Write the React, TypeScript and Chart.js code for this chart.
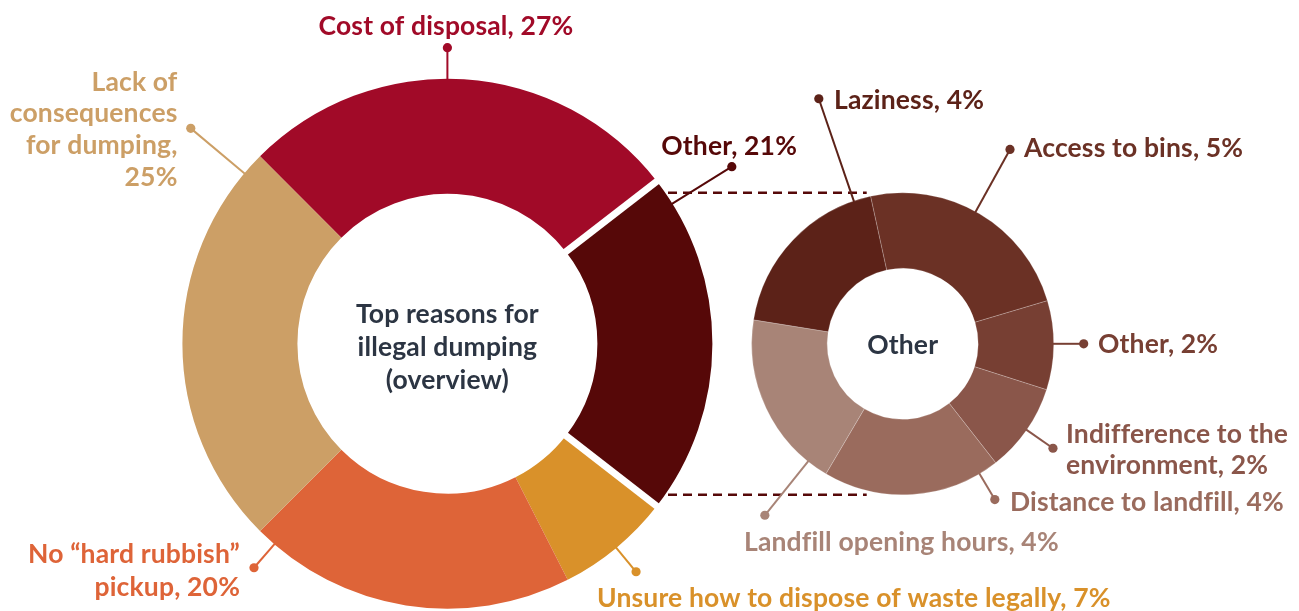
import React, { useEffect, useRef } from "react";
import { Chart, registerables } from "chart.js";

Chart.register(...registerables);

// ---------- data ----------
const mainCategories = [
  "Cost of disposal",
  "Other",
  "Unsure how to dispose of waste legally",
  "No “hard rubbish” pickup",
  "Lack of consequences for dumping",
];
const mainValues = [27, 21, 7, 20, 25];
const mainColors = ["#A10A28", "#560808", "#D9912A", "#DE6438", "#CC9F66"];

const otherCategories = [
  "Access to bins",
  "Other",
  "Indifference to the environment",
  "Distance to landfill",
  "Landfill opening hours",
  "Laziness",
];
const otherValues = [5, 2, 2, 4, 4, 4];
const otherColors = ["#6B3125", "#773F33", "#8A564A", "#9A6B5D", "#A88477", "#5C2218"];

const mainTitleLines = ["Top reasons for", "illegal dumping", "(overview)"];
const otherTitle = "Other";

// ---------- layout (positions / styles only) ----------
const W = 1299;
const H = 611;
const FONT = "Lato, 'Noto Sans', sans-serif";
const FONT_SPEC = `bold 26.5px ${FONT}`;
const LETTER_SPACING = "0.15px";
const TITLE_COLOR = "#2C3543";

type LabelSpec = {
  lines: string[];
  x: number;
  baselines: number[];
  align: CanvasTextAlign;
  angle: number; // degrees clockwise from top, where the leader line leaves the ring
  dot: number; // distance of the dot from the centre
};

const lbl = (cats: string[], vals: number[], i: number) => `${cats[i]}, ${vals[i]}%`;

const mainLabels: LabelSpec[] = [
  { lines: [lbl(mainCategories, mainValues, 0)], x: 446, baselines: [35], align: "center", angle: 0, dot: 296 },
  { lines: [lbl(mainCategories, mainValues, 1)], x: 797, baselines: [155], align: "right", angle: 58.1, dot: 335 },
  { lines: [lbl(mainCategories, mainValues, 2)], x: 597, baselines: [607], align: "left", angle: 140.4, dot: 296 },
  { lines: ["No “hard rubbish”", `pickup, ${mainValues[3]}%`], x: 240, baselines: [563, 596], align: "right", angle: 220.8, dot: 296 },
  { lines: ["Lack of", "consequences", "for dumping,", `${mainValues[4]}%`], x: 177.5, baselines: [90.5, 122, 154, 186], align: "right", angle: -50, dot: 335 },
];

const otherLabels: LabelSpec[] = [
  { lines: [lbl(otherCategories, otherValues, 0)], x: 1024, baselines: [157], align: "left", angle: 28.9, dot: 222 },
  { lines: [lbl(otherCategories, otherValues, 1)], x: 1098, baselines: [353], align: "left", angle: 90, dot: 181 },
  { lines: ["Indifference to the", `environment, ${otherValues[2]}%`], x: 1066, baselines: [443, 473.5], align: "left", angle: 124.8, dot: 183 },
  { lines: [lbl(otherCategories, otherValues, 3)], x: 1010, baselines: [510.5], align: "left", angle: 149.4, dot: 181 },
  { lines: [lbl(otherCategories, otherValues, 4)], x: 744, baselines: [551], align: "left", angle: 218.8, dot: 220 },
  { lines: [lbl(otherCategories, otherValues, 5)], x: 834, baselines: [108.5], align: "left", angle: -18.9, dot: 259 },
];

function setFont(ctx: CanvasRenderingContext2D) {
  ctx.font = FONT_SPEC;
  try {
    (ctx as any).letterSpacing = LETTER_SPACING;
  } catch (e) {
    /* ignore */
  }
}

function drawLeadersAndLabels(chart: any, labels: LabelSpec[], colors: string[]) {
  const meta = chart.getDatasetMeta(0);
  const arc0: any = meta.data[0];
  if (!arc0) return;
  const cx = arc0.x;
  const cy = arc0.y;
  const R = arc0.outerRadius;
  const ctx: CanvasRenderingContext2D = chart.ctx;
  ctx.save();
  labels.forEach((l, i) => {
    const a = ((l.angle - 90) * Math.PI) / 180;
    const x1 = cx + Math.cos(a) * (R - 1);
    const y1 = cy + Math.sin(a) * (R - 1);
    const x2 = cx + Math.cos(a) * l.dot;
    const y2 = cy + Math.sin(a) * l.dot;
    ctx.strokeStyle = colors[i];
    ctx.fillStyle = colors[i];
    ctx.lineWidth = 2;
    ctx.beginPath();
    ctx.moveTo(x1, y1);
    ctx.lineTo(x2, y2);
    ctx.stroke();
    ctx.beginPath();
    ctx.arc(x2, y2, 4.6, 0, Math.PI * 2);
    ctx.fill();
    setFont(ctx);
    ctx.textAlign = l.align;
    ctx.textBaseline = "alphabetic";
    l.lines.forEach((t, k) => ctx.fillText(t, l.x, l.baselines[k]));
  });
  ctx.restore();
}

const mainPlugin = {
  id: "mainDecor",
  afterDatasetsDraw(chart: any) {
    const meta = chart.getDatasetMeta(0);
    const ctx: CanvasRenderingContext2D = chart.ctx;
    // white separators around the "Other" slice
    const other: any = meta.data[1];
    if (other) {
      ctx.save();
      ctx.strokeStyle = "#ffffff";
      ctx.lineWidth = 7;
      [other.startAngle, other.endAngle].forEach((ang: number) => {
        ctx.beginPath();
        ctx.moveTo(other.x + Math.cos(ang) * (other.innerRadius - 3), other.y + Math.sin(ang) * (other.innerRadius - 3));
        ctx.lineTo(other.x + Math.cos(ang) * (other.outerRadius + 3), other.y + Math.sin(ang) * (other.outerRadius + 3));
        ctx.stroke();
      });
      ctx.restore();
    }
    drawLeadersAndLabels(chart, mainLabels, mainColors);
    // centre title
    const a0: any = meta.data[0];
    ctx.save();
    ctx.fillStyle = TITLE_COLOR;
    setFont(ctx);
    ctx.textAlign = "center";
    ctx.textBaseline = "alphabetic";
    const bl = [323, 356, 389];
    mainTitleLines.forEach((t, k) => ctx.fillText(t, a0.x, bl[k]));
    ctx.restore();
  },
};

const otherPlugin = {
  id: "otherDecor",
  beforeDatasetsDraw(chart: any) {
    const meta = chart.getDatasetMeta(0);
    const a0: any = meta.data[0];
    if (!a0) return;
    const ctx: CanvasRenderingContext2D = chart.ctx;
    ctx.save();
    ctx.strokeStyle = mainColors[1];
    ctx.lineWidth = 2.5;
    ctx.setLineDash([9, 6]);
    [-1, 1].forEach((s) => {
      const y = a0.y + s * a0.outerRadius;
      ctx.beginPath();
      ctx.moveTo(668, y);
      ctx.lineTo(a0.x - 36, y);
      ctx.stroke();
    });
    ctx.restore();
  },
  afterDatasetsDraw(chart: any) {
    drawLeadersAndLabels(chart, otherLabels, otherColors);
    const a0: any = chart.getDatasetMeta(0).data[0];
    const ctx: CanvasRenderingContext2D = chart.ctx;
    ctx.save();
    ctx.fillStyle = TITLE_COLOR;
    setFont(ctx);
    ctx.textAlign = "center";
    ctx.textBaseline = "alphabetic";
    ctx.fillText(otherTitle, a0.x, 354);
    ctx.restore();
  },
};

function padFor(cx: number, cy: number, r: number) {
  return { left: cx - r, right: W - (cx + r), top: cy - r, bottom: H - (cy + r) };
}

export default function App() {
  const mainRef = useRef<HTMLCanvasElement>(null);
  const otherRef = useRef<HTMLCanvasElement>(null);

  useEffect(() => {
    const common = {
      responsive: false,
      maintainAspectRatio: false,
      animation: false as const,
      events: [] as any[],
      plugins: { legend: { display: false }, tooltip: { enabled: false } },
    };
    const main = new Chart(mainRef.current!, {
      type: "doughnut",
      data: {
        labels: mainCategories,
        datasets: [
          {
            data: mainValues,
            backgroundColor: mainColors,
            borderWidth: 0,
          },
        ],
      },
      options: {
        ...common,
        rotation: -45,
        radius: 265,
        cutout: "56.6%",
        layout: { padding: padFor(447.4, 343.7, 265) },
      } as any,
      plugins: [mainPlugin],
    });
    const other = new Chart(otherRef.current!, {
      type: "doughnut",
      data: {
        labels: otherCategories,
        datasets: [
          {
            data: otherValues,
            backgroundColor: otherColors,
            borderColor: "rgba(255,255,255,0.35)",
            borderWidth: 0.6,
          },
        ],
      },
      options: {
        ...common,
        rotation: -12.3,
        radius: 151,
        cutout: "50%",
        layout: { padding: padFor(902.7, 343.8, 151) },
      } as any,
      plugins: [otherPlugin],
    });
    return () => {
      main.destroy();
      other.destroy();
    };
  }, []);

  const cs: React.CSSProperties = { position: "absolute", left: 0, top: 0, width: W, height: H };
  return (
    <div style={{ position: "absolute", left: 0, top: 0, width: W, height: H, background: "#ffffff" }}>
      <canvas ref={mainRef} width={W} height={H} style={cs} />
      <canvas ref={otherRef} width={W} height={H} style={cs} />
    </div>
  );
}
